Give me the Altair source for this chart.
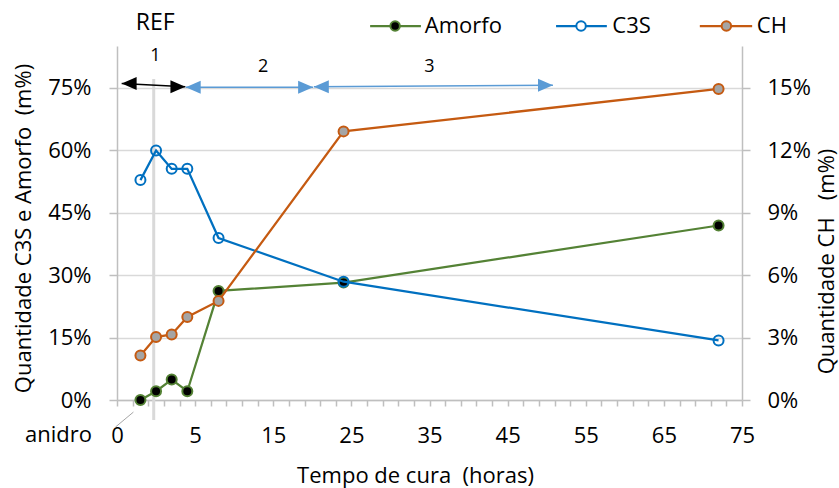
import altair as alt
import pandas as pd

# Tempo de cura (h); -2 stands for the anhydrous ("anidro") sample
tempo = [-2, 0, 2, 4, 8, 24, 72]
amorfo = [0.0, 2.1, 4.9, 2.1, 26.2, 28.2, 41.9]      # m%
c3s = [52.8, 59.9, 55.5, 55.5, 38.9, 28.4, 14.3]     # m%
ch = [2.14, 3.02, 3.15, 3.99, 4.76, 12.9, 14.94]     # m%

series = ["Amorfo", "C3S", "CH"]
x_ticks = list(range(-5, 76, 2))
y_left_ticks = [0, 0.15, 0.30, 0.45, 0.60, 0.75]
y_right_ticks = [0, 0.03, 0.06, 0.09, 0.12, 0.15]

FONT = "Open Sans"
GRID = "#D9D9D9"
AXIS = "#BFBFBF"
GREEN, BLUE, ORANGE = "#548235", "#0070C0", "#C55A11"
ARROW_BLUE = "#5B9BD5"
NBSP = "\u00a0"  # keeps the wider gaps in the titles from collapsing

df = pd.DataFrame({
    "tempo": tempo,
    "Amorfo": [v / 100 for v in amorfo],
    "C3S": [v / 100 for v in c3s],
    "CH": [v / 100 for v in ch],
})

xs = alt.Scale(domain=[-5, 75], nice=False, zero=False)
ys_left = alt.Scale(domain=[0, 0.85], nice=False)
ys_right = alt.Scale(domain=[0, 0.17], nice=False)

x_axis = alt.Axis(
    values=x_ticks,
    labelExpr="datum.value == -5 ? '0' : ((datum.value + 5) % 10 == 0 ? datum.label : '')",
    grid=False, domainColor=AXIS, domainWidth=1.5, tickColor=AXIS, tickWidth=1.5,
    tickSize=6, labelFont=FONT, labelFontSize=22, labelColor="black",
    labelPadding=29, labelBaseline="middle", labelOverlap=False, labelFlush=False,
    title=f"Tempo de cura {NBSP}(horas)", titleFont=FONT, titleFontSize=22,
    titleFontWeight="normal", titleColor="black", titleX=298, titleY=75,
    titleBaseline="middle", titleAlign="center",
)
y_left_axis = alt.Axis(
    values=y_left_ticks, format=".0%", grid=True, gridColor=GRID, gridWidth=1.5,
    domainColor=AXIS, domainWidth=1.5, tickColor=AXIS, tickWidth=1.5, tickSize=8,
    labelFont=FONT, labelFontSize=22, labelColor="black", labelPadding=18,
    title=f"Quantidade C3S e Amorfo {NBSP}(m%)", titleFont=FONT, titleFontSize=22,
    titleFontWeight="normal", titleColor="black", titleAngle=270,
    titleX=-94, titleY=182, titleBaseline="middle", titleAlign="center",
)
y_right_axis = alt.Axis(
    orient="right", values=y_right_ticks, format=".0%", grid=False,
    domainColor=AXIS, domainWidth=1.5, tickColor=AXIS, tickWidth=1.5, tickSize=8,
    labelFont=FONT, labelFontSize=22, labelColor="black", labelPadding=17,
    title=f"Quantidade CH {NBSP}{NBSP}(m%)", titleFont=FONT, titleFontSize=22,
    titleFontWeight="normal", titleColor="black", titleAngle=270,
    titleX=84, titleY=215, titleBaseline="middle", titleAlign="center",
)

base = alt.Chart(df)

# every layer carries the same axis definition so the shared axes merge cleanly
def X(field):
    return alt.X(f"{field}:Q", scale=xs, axis=x_axis)

def YL(field):
    return alt.Y(f"{field}:Q", scale=ys_left, axis=y_left_axis)

def YR(field):
    return alt.Y(f"{field}:Q", scale=ys_right, axis=y_right_axis)

# Amorfo series (left axis)
amorfo_line = base.mark_line(color=GREEN, strokeWidth=2.25).encode(
    x=X("tempo"), y=YL("Amorfo"))
amorfo_pts = base.mark_point(shape="circle", filled=True, fill="black", stroke=GREEN,
                             strokeWidth=2, size=100, opacity=1).encode(
    x=X("tempo"), y=YL("Amorfo"))

# C3S series (left axis)
c3s_line = base.mark_line(color=BLUE, strokeWidth=2.25).encode(x=X("tempo"), y=YL("C3S"))
c3s_pts = base.mark_point(shape="circle", filled=False, stroke=BLUE, strokeWidth=2,
                          size=100, opacity=1).encode(x=X("tempo"), y=YL("C3S"))

# CH series (right axis)
ch_line = base.mark_line(color=ORANGE, strokeWidth=2.25).encode(x=X("tempo"), y=YR("CH"))
ch_pts = base.mark_point(shape="circle", filled=True, fill="#A5A5A5", stroke=ORANGE,
                         strokeWidth=2, size=100, opacity=1).encode(
    x=X("tempo"), y=YR("CH"))

# Reference separator and axis break mark
ref_line = alt.Chart(pd.DataFrame({"x": [-0.3], "y": [-0.048], "y2": [0.771]})).mark_rule(
    color=GRID, strokeWidth=3).encode(x=X("x"), y=YL("y"), y2="y2")
break_line = alt.Chart(pd.DataFrame({"x": [-5.2], "x2": [-2.9], "y": [-0.065], "y2": [-0.029]})).mark_rule(
    color="#A6A6A6", strokeWidth=1).encode(x=X("x"), x2="x2", y=YL("y"), y2="y2")

# Stage arrows 1, 2, 3
arrows = pd.DataFrame({
    "x1": [-4.4, 3.8, 20.2], "y1": [0.760, 0.751, 0.752],
    "x2": [3.75, 20.1, 50.8], "y2": [0.752, 0.751, 0.756],
    "cor": ["#000000", ARROW_BLUE, ARROW_BLUE],
})
LEFT_HEAD = "M0,0 L2.3,-1 L2.3,1 Z"
RIGHT_HEAD = "M0,0 L-2.3,-1 L-2.3,1 Z"
arrow_body = alt.Chart(arrows).mark_rule(strokeWidth=1.5).encode(
    x=X("x1"), x2="x2", y=YL("y1"), y2="y2", color=alt.Color("cor:N", scale=None))
arrow_left = alt.Chart(arrows).mark_point(shape=LEFT_HEAD, filled=True, size=169,
                                          opacity=1, strokeWidth=0).encode(
    x=X("x1"), y=YL("y1"), color=alt.Color("cor:N", scale=None))
arrow_right = alt.Chart(arrows).mark_point(shape=RIGHT_HEAD, filled=True, size=169,
                                           opacity=1, strokeWidth=0).encode(
    x=X("x2"), y=YL("y2"), color=alt.Color("cor:N", scale=None))

labels = pd.DataFrame({
    "x": [-0.1, -0.1, 13.7, 35.0],
    "y": [0.906, 0.825, 0.799, 0.799],
    "txt": ["REF", "1", "2", "3"],
    "fs": [23, 18, 18, 18],
})
label_text = alt.Chart(labels).mark_text(font=FONT, color="black", baseline="middle").encode(
    x=X("x"), y=YL("y"), text="txt:N", size=alt.Size("fs:Q", scale=None))
anidro_text = alt.Chart(pd.DataFrame({"x": [-5], "y": [-0.084], "txt": ["anidro"]})).mark_text(
    font=FONT, fontSize=22, color="black", align="right", baseline="middle", dx=-25).encode(
    x=X("x"), y=YL("y"), text="txt:N")

# Legend row above the plot
legend = pd.DataFrame({
    "serie": series,
    "x1": [27.4, 51.2, 69.6], "x2": [33.9, 57.7, 76.3],
    "xm": [30.6, 54.4, 73.0], "xt": [34.4, 58.4, 76.9],
    "y": [0.898] * 3,
    "linha": [GREEN, BLUE, ORANGE],
    "preench": ["black", "white", "#A5A5A5"],
})
leg_lines = alt.Chart(legend).mark_rule(strokeWidth=2.25).encode(
    x=X("x1"), x2="x2", y=YL("y"), color=alt.Color("linha:N", scale=None))
leg_pts = alt.Chart(legend).mark_point(shape="circle", filled=True, strokeWidth=2,
                                       size=90, opacity=1).encode(
    x=X("xm"), y=YL("y"), fill=alt.Fill("preench:N", scale=None),
    stroke=alt.Stroke("linha:N", scale=None))
leg_text = alt.Chart(legend).mark_text(font=FONT, fontSize=22, color="black",
                                       align="left", baseline="middle").encode(
    x=X("xt"), y=YL("y"), text="serie:N")

left = alt.layer(
    ref_line, break_line, amorfo_line, amorfo_pts, c3s_line, c3s_pts,
    arrow_body, arrow_left, arrow_right, label_text, anidro_text,
    leg_lines, leg_pts, leg_text,
)
right = alt.layer(ch_line, ch_pts)

chart = alt.layer(left, right).resolve_scale(y="independent").properties(
    width=625, height=354,
    padding={"left": 117, "top": 46, "right": 97, "bottom": 88},
    autosize=alt.AutoSizeParams(type="none"),
    background="white",
).configure_view(stroke=None)

chart.save("out.html", embed_options={"renderer": "svg", "actions": False})
